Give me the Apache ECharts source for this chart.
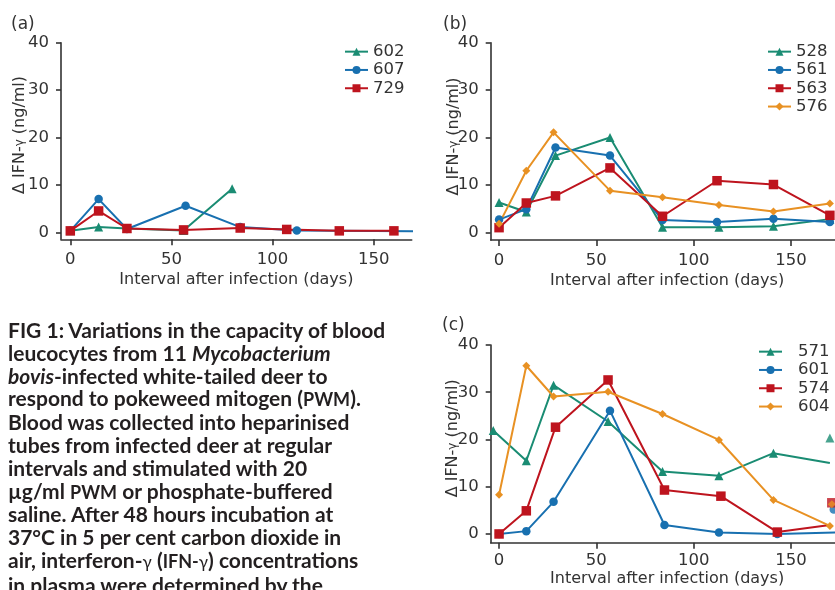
<!DOCTYPE html>
<html><head><meta charset="utf-8">
<script src="https://cdn.jsdelivr.net/npm/echarts@6/dist/echarts.min.js"></script>
<style>
html,body{margin:0;padding:0;background:#fff;}
#wrap{position:relative;width:835px;height:590px;overflow:hidden;background:#fff;}
#chart{position:absolute;left:0;top:0;width:835px;height:590px;}
#caption{position:absolute;left:8px;top:319px;font-family:Lato,"Noto Sans",sans-serif;font-weight:700;font-size:21px;line-height:22.8px;color:#231f20;white-space:nowrap;}
#caption .sc{font-size:18px}
#caption .g{font-weight:400;font-size:17px}
</style></head><body>
<div id="wrap"><div id="chart"></div>
<div id="caption">FIG 1: Variations in the capacity of blood<br>leucocytes from 11 <i>Mycobacterium</i><br><i>bovis</i>-infected white-tailed deer to<br>respond to pokeweed mitogen (<span class="sc">PWM</span>).<br>Blood was collected into heparinised<br>tubes from infected deer at regular<br>intervals and stimulated with 20<br>µg/ml <span class="sc">PWM</span> or phosphate-buffered<br>saline. After 48 hours incubation at<br>37°C in 5 per cent carbon dioxide in<br>air, interferon-<span class="g">γ</span> (<span class="sc">IFN-</span><span class="g">γ</span>) concentrations<br>in plasma were determined by the</div>
</div>
<script>
// ---- tick labels ----
const xTicks = [0, 50, 100, 150];
const yTicks = [0, 10, 20, 30, 40];
const xTitle = 'Interval after infection (days)';
const yTitle = 'Δ IFN-{g|γ} (ng/ml)';

// ---- panel (a) ----
const aNames = ['602', '607', '729'];
const a602 = [[0, 0.3], [14, 1.1], [28, 0.8], [56, 0.4], [80, 9.2]];
const a607 = [[0, 0.3], [14, 7.0], [28, 0.7], [57, 5.6], [84, 1.1], [112, 0.4]];
const a607Edge = [[175, 0.2]];
const a729 = [[0, 0.3], [14, 4.5], [28, 0.8], [56, 0.5], [84, 0.9], [107, 0.6], [133, 0.3], [160, 0.3]];

// ---- panel (b) ----
const bNames = ['528', '561', '563', '576'];
const b528 = [[0, 6.3], [14, 4.3], [29, 16.2], [57, 20.0], [84, 1.1], [113, 1.1], [141, 1.3], [170, 2.8]];
const b561 = [[0, 2.7], [14, 4.9], [29, 17.9], [57, 16.2], [84, 2.6], [112, 2.2], [141, 2.9], [170, 2.2]];
const b563 = [[0, 1.0], [14, 6.2], [29, 7.7], [57, 13.6], [84, 3.4], [112, 10.9], [141, 10.1], [170, 3.6]];
const b576 = [[0, 1.8], [14, 13.0], [28, 21.1], [57, 8.8], [84, 7.4], [113, 5.8], [141, 4.4], [170, 6.1]];

// ---- panel (c) ----
const cNames = ['571', '601', '574', '604'];
const c571 = [[-3, 21.9], [14, 15.5], [28, 31.5], [56, 23.8], [84, 13.2], [113, 12.3], [141, 17.1]];
const c571Edge = [[170, 15.0]];
const c601 = [[0, 0.0], [14, 0.6], [28, 6.8], [57, 26.1], [85, 1.9], [113, 0.3], [143, 0.0]];
const c601Edge = [[174, 0.3]];
const c574 = [[0, 0.0], [14, 4.9], [29, 22.6], [56, 32.6], [85, 9.3], [114, 8.0], [143, 0.4]];
const c574Edge = [[170, 1.9]];
const c604 = [[0, 8.3], [14, 35.6], [28, 29.1], [56, 30.1], [84, 25.4], [113, 19.9], [141, 7.2], [170, 1.7]];
const cExtra571 = [[170, 20.3]];
const cExtra574 = [[171, 6.6]];
const cExtra604 = [[171, 6.3]];
const cExtra601 = [[172, 5.2]];

// ---- styling ----
const F = 'DejaVu Sans';
const INK = '#333333';
const COL = {green: '#1a8c73', blue: '#1870b0', red: '#be141e', orange: '#e89123'};
const SYM = {green: ['triangle', 9], blue: ['circle', 8.5], red: ['rect', 9.5], orange: ['diamond', 8]};

function pts(main, edge) {
  const out = main.map(p => ({value: p}));
  (edge || []).forEach(p => out.push({value: p, symbol: 'none'}));
  return out;
}
function lineSeries(name, data, key, gi) {
  return {
    type: 'line', name: name, data: data, xAxisIndex: gi, yAxisIndex: gi,
    color: COL[key], symbol: SYM[key][0], symbolSize: SYM[key][1],
    lineStyle: {width: 2, color: COL[key]}, itemStyle: {color: COL[key]},
    clip: true, animation: false, z: 2
  };
}
function extraSeries(data, key, gi) {
  return {
    type: 'scatter', data: data, xAxisIndex: gi, yAxisIndex: gi,
    symbol: SYM[key][0], symbolSize: SYM[key][1], itemStyle: {color: COL[key]},
    clip: false, animation: false, z: 3
  };
}
function xAx(gi, min, max, nameGap, margin) {
  return {
    type: 'value', gridIndex: gi, min: min, max: max,
    name: xTitle, nameLocation: 'middle', nameGap: nameGap,
    nameTextStyle: {fontFamily: F, fontSize: 16, color: INK},
    axisLine: {show: true, onZero: false, lineStyle: {color: INK, width: 1.6}},
    axisTick: {show: true, length: 6, customValues: xTicks, lineStyle: {color: INK, width: 1.6}},
    axisLabel: {customValues: xTicks, margin: margin, fontFamily: F, fontSize: 16.5, color: INK},
    splitLine: {show: false}
  };
}
function yAx(gi, min, max) {
  return {
    type: 'value', gridIndex: gi, min: min, max: max,
    axisLine: {show: true, onZero: false, lineStyle: {color: INK, width: 1.6}},
    axisTick: {show: true, length: 5, customValues: yTicks, lineStyle: {color: INK, width: 1.6}},
    axisLabel: {customValues: yTicks, margin: 12, fontFamily: F, fontSize: 16.5, color: INK},
    splitLine: {show: false}
  };
}
function legend(names, left, top, textPad) {
  return {
    data: names, orient: 'vertical', left: left, top: top, padding: 0,
    itemWidth: 23, itemHeight: 10, itemGap: 0, selectedMode: false,
    textStyle: {fontFamily: F, fontSize: 16.5, color: INK, lineHeight: 18.3, padding: [0, 0, 0, textPad]}
  };
}
function yTitleText(x, y) {
  return {
    type: 'text', x: x, y: y, rotation: Math.PI / 2, silent: true,
    style: {text: yTitle, fontFamily: F, fontSize: 16, fill: INK, align: 'center', verticalAlign: 'middle',
      rich: {g: {fontFamily: F, fontSize: 12, fill: INK}}}
  };
}
function panelLabel(t, x, y) {
  return {type: 'text', x: x, y: y, silent: true,
    style: {text: t, fontFamily: F, fontSize: 17, fill: INK, align: 'left', verticalAlign: 'middle'}};
}
function grid(left, top, width, height) {
  return {left: left, top: top, width: width, height: height, containLabel: false, outerBoundsMode: 'none'};
}

const chart = echarts.init(document.getElementById('chart'), null, {renderer: 'canvas'});
chart.setOption({
  backgroundColor: 'transparent',
  animation: false,
  grid: [
    grid(61, 42.7, 350.7, 196.6),
    grid(490.7, 42.7, 352.8, 197.3),
    grid(490.7, 345, 352.8, 197.7)
  ],
  xAxis: [xAx(0, -4.6, 168.8, 33, 12), xAx(1, -4.3, 177, 33, 12), xAx(2, -4.3, 177, 28, 10)],
  yAxis: [yAx(0, -1.48, 40), yAx(1, -1.6, 40), yAx(2, -1.85, 40)],
  legend: [legend(aNames, 344, 42.5, 0), legend(bNames, 767, 42.5, 0), legend(cNames, 758, 342.5, 11)],
  graphic: [
    panelLabel('(a)', 11, 25), panelLabel('(b)', 443, 25), panelLabel('(c)', 442, 326),
    yTitleText(19.5, 135), yTitleText(453.5, 136.5), yTitleText(452.5, 438.3)
  ],
  series: [
    lineSeries(aNames[0], pts(a602), 'green', 0),
    lineSeries(aNames[1], pts(a607, a607Edge), 'blue', 0),
    lineSeries(aNames[2], pts(a729), 'red', 0),
    lineSeries(bNames[0], pts(b528), 'green', 1),
    lineSeries(bNames[1], pts(b561), 'blue', 1),
    lineSeries(bNames[2], pts(b563), 'red', 1),
    lineSeries(bNames[3], pts(b576), 'orange', 1),
    lineSeries(cNames[0], pts(c571, c571Edge), 'green', 2),
    lineSeries(cNames[1], pts(c601, c601Edge), 'blue', 2),
    lineSeries(cNames[2], pts(c574, c574Edge), 'red', 2),
    lineSeries(cNames[3], pts(c604), 'orange', 2),
    extraSeries(cExtra571, 'green', 2),
    extraSeries(cExtra601, 'blue', 2),
    extraSeries(cExtra574, 'red', 2),
    extraSeries(cExtra604, 'orange', 2)
  ]
});
</script>
</body></html>
